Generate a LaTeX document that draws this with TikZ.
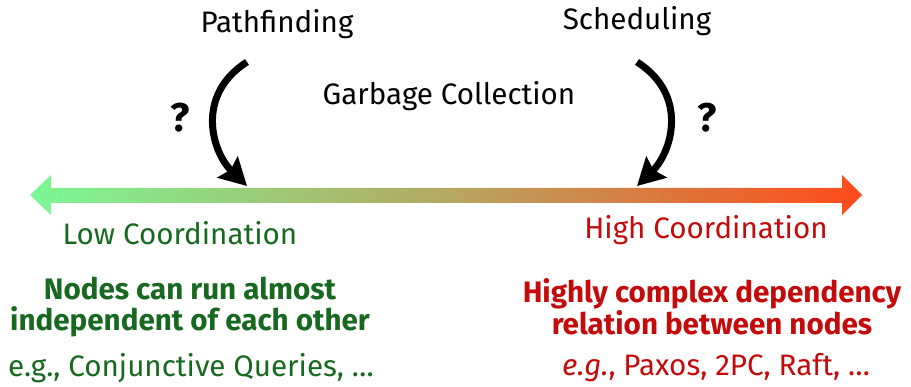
\documentclass[tikz,border=0pt]{standalone}
\usepackage{fontspec}
\setmainfont{Fira Sans}
\usetikzlibrary{arrows.meta}
\definecolor{lowgreen}{HTML}{7CF797}
\definecolor{midtan}{HTML}{B5A862}
\definecolor{highred}{HTML}{FF4A1C}
\definecolor{dgreen}{HTML}{17691F}
\definecolor{dred}{HTML}{C40A0A}
\tikzset{
  lbl/.style={inner sep=0pt, font=\fontsize{29.6}{33}\selectfont, align=center},
  bold lbl/.style={lbl, font=\fontsize{29.6}{30.5}\selectfont\bfseries},
  qmark/.style={inner sep=0pt, font=\fontsize{40}{40}\selectfont\bfseries},
  curvearrow/.style={line width=7pt, -{Stealth[length=27pt,width=29pt,inset=4pt]}},
}
\begin{document}
\begin{tikzpicture}[x=1pt,y=-1pt]
\useasboundingbox (0,0) rectangle (911,387);
% gradient double arrow
\shade[left color=lowgreen, right color=highred, middle color=midtan]
  (30,195) -- (51,175) -- (51,188) -- (842,188) -- (842,175) -- (862,195)
  -- (842,215) -- (842,203) -- (51,203) -- (51,215) -- cycle;
% labels
\node[lbl] (path) at (277,24) {Pathfinding};
\node[lbl] (sched) at (637,21) {Scheduling};
\node[lbl] (gc) at (449,96) {Garbage Collection};
\node[qmark] (q1) at (180,118) {?};
\node[qmark] (q2) at (707,118) {?};
\node[lbl, text=dgreen] (low) at (180,233) {Low Coordination};
\node[lbl, text=dred] (high) at (706,230) {High Coordination};
\node[bold lbl, text=dgreen] (lowdesc) at (190,307) {Nodes can run almost\\independent of each other};
\node[bold lbl, text=dred] (highdesc) at (712,307) {Highly complex dependency\\relation between nodes};
\node[lbl, text=dgreen] (lowex) at (191,368) {e.g., Conjunctive Queries, …};
\node[lbl, text=dred] (highex) at (716,368) {\textit{e.g.}, Paxos, 2PC, Raft, …};
% curved arrows
\coordinate (a1s) at (247,62);
\coordinate (a1e) at (247,186);
\coordinate (a2s) at (637,62);
\coordinate (a2e) at (637,186);
\draw[curvearrow] (a1s) .. controls (195,95) and (212,152) .. (a1e);
\draw[curvearrow] (a2s) .. controls (689,95) and (672,152) .. (a2e);
\end{tikzpicture}
\end{document}
